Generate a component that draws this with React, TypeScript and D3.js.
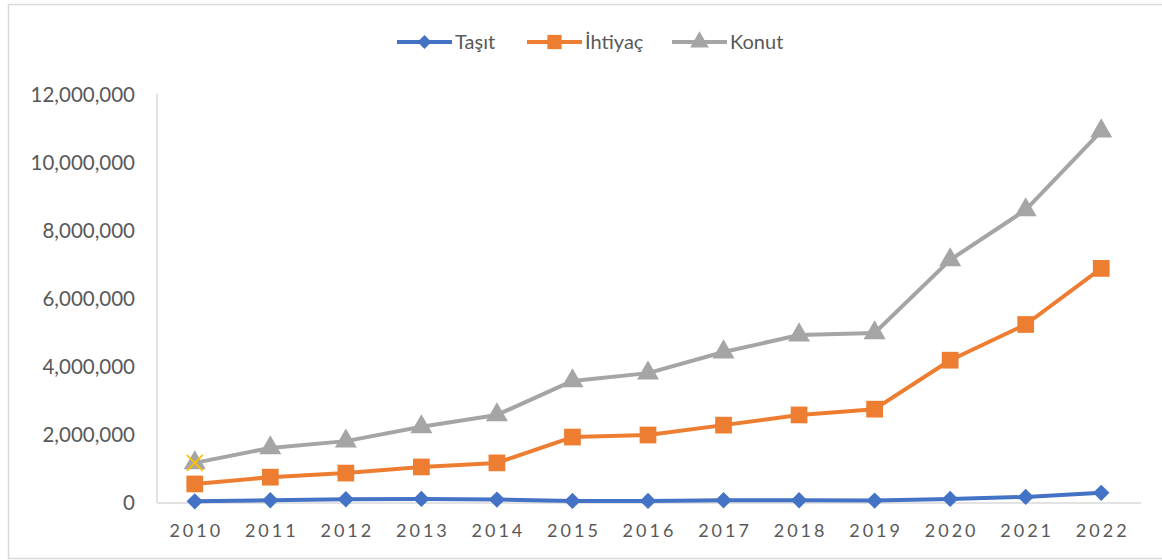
import React from "react";
import * as d3 from "d3";

const years = ["2010","2011","2012","2013","2014","2015","2016","2017","2018","2019","2020","2021","2022"];
const tasit = [50000, 80000, 110000, 120000, 100000, 60000, 60000, 80000, 80000, 70000, 120000, 180000, 300000];
const ihtiyac = [560000, 760000, 880000, 1060000, 1180000, 1940000, 2000000, 2290000, 2590000, 2760000, 4200000, 5250000, 6900000];
const konut = [1180000, 1620000, 1820000, 2240000, 2590000, 3590000, 3820000, 4440000, 4940000, 5000000, 7150000, 8620000, 10940000];
const extraX = [1180000];
const yTicks = [0, 2000000, 4000000, 6000000, 8000000, 10000000, 12000000];

const W = 1162, H = 560;
const left = 157, right = 1139, top = 95, bottom = 503;
const textColor = "#595959";
const fontFamily = "Lato, 'Open Sans', sans-serif";

export default function App() {
  const x = d3.scaleBand().domain(years).range([left, right]).padding(0);
  const y = d3.scaleLinear().domain([0, 12000000]).range([bottom, top]);
  const cx = (i: number) => (x(years[i]) as number) + x.bandwidth() / 2;
  const line = d3.line<number>().x((_, i) => cx(i)).y((d) => y(d));
  const fmt = d3.format(",");

  const diamond = d3.symbol().type(d3.symbolDiamond2).size(170)();
  const square = d3.symbol().type(d3.symbolSquare).size(280)();
  const triangle = d3.symbol().type(d3.symbolTriangle).size(210)();

  const series = [
    { name: "Taşıt", data: tasit, color: "#4472C4", marker: diamond },
    { name: "İhtiyaç", data: ihtiyac, color: "#ED7D31", marker: square },
    { name: "Konut", data: konut, color: "#A5A5A5", marker: triangle },
  ];
  const legendX = [397, 527, 672];

  return (
    <svg width={W} height={H} style={{ position: "absolute", left: 0, top: 0 }} fontFamily={fontFamily}>
      <rect x={8.5} y={4.5} width={W} height={554} fill="white" stroke="#D9D9D9" strokeWidth={1.5} />
      {/* axes */}
      <line x1={left} x2={left} y1={top - 1} y2={bottom} stroke="#D9D9D9" strokeWidth={1.5} />
      <line x1={left} x2={1141} y1={bottom} y2={bottom} stroke="#D9D9D9" strokeWidth={1.5} />
      {yTicks.map((t) => (
        <text key={t} x={135} y={y(t)} dy="0.36em" textAnchor="end" fontSize={20.5} fill={textColor}>
          {fmt(t)}
        </text>
      ))}
      {years.map((yr, i) => (
        <text key={yr} x={cx(i) + 1.5} y={531} dy="0.36em" textAnchor="middle" fontSize={18} letterSpacing={3} fill={textColor}>
          {yr}
        </text>
      ))}
      {/* series */}
      {series.map((s) => (
        <g key={s.name}>
          <path d={line(s.data) as string} fill="none" stroke={s.color} strokeWidth={4} strokeLinejoin="round" />
          {s.data.map((v, i) => (
            <path key={i} d={s.marker as string} transform={`translate(${cx(i)},${y(v)})`} fill={s.color} />
          ))}
        </g>
      ))}
      {extraX.map((v, i) => (
        <g key={i} transform={`translate(${cx(i)},${y(v)})`} stroke="#FFC000" strokeWidth={1.8}>
          <line x1={-8} y1={-8} x2={8} y2={8} />
          <line x1={-8} y1={8} x2={8} y2={-8} />
        </g>
      ))}
      {/* legend */}
      {series.map((s, i) => (
        <g key={s.name} transform={`translate(${legendX[i]},42)`}>
          <line x1={0} x2={55} y1={0} y2={0} stroke={s.color} strokeWidth={4} />
          <path d={s.marker as string} transform="translate(27.5,0) scale(0.85)" fill={s.color} />
          <text x={58} y={0} dy="0.36em" fontSize={20} fill={textColor}>{s.name}</text>
        </g>
      ))}
    </svg>
  );
}
